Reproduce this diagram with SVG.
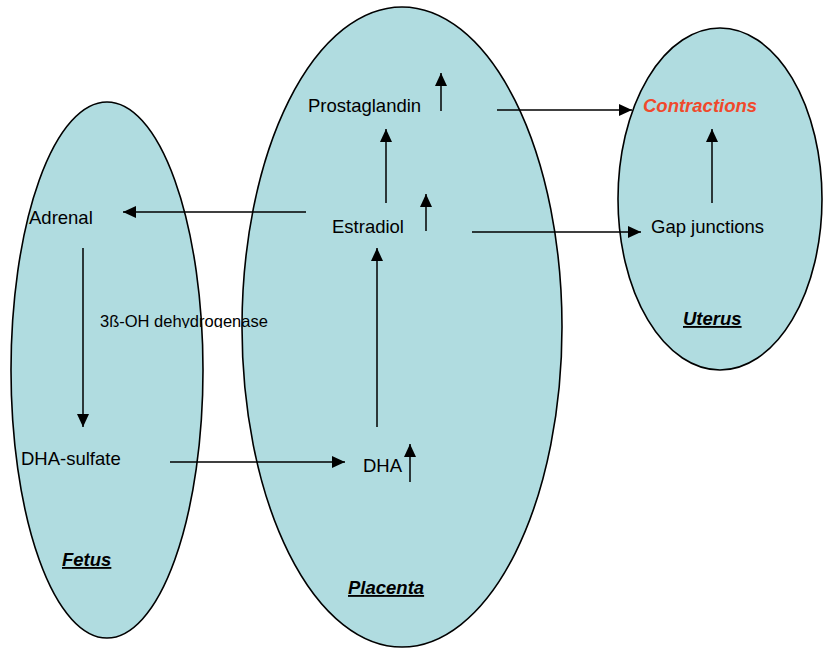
<svg xmlns="http://www.w3.org/2000/svg" width="823" height="648" viewBox="0 0 823 648">
<style>
.region{fill:#b0dce0;stroke:#000;stroke-width:1.6}
.t{font-family:"Liberation Sans",Arial,sans-serif;font-size:18.5px;fill:#000}
.lbl{font-family:"Liberation Sans",Arial,sans-serif;font-size:18.5px;font-weight:bold;font-style:italic;text-decoration:underline;fill:#000}
.conn line{stroke:#000;stroke-width:1.5;marker-end:url(#ah)}
</style>
<defs>
<marker id="ah" markerUnits="userSpaceOnUse" markerWidth="14" markerHeight="12" viewBox="0 0 14 12" refX="13" refY="6" orient="auto">
<path d="M0,0 L13,6 L0,12 Z" fill="#000"/>
</marker>
<clipPath id="clipEnz"><rect x="90" y="300" width="200" height="28"/></clipPath>
</defs>
<g id="fetus">
<ellipse class="region" cx="107" cy="370" rx="96" ry="268"/>
<text class="lbl" x="62" y="566">Fetus</text>
</g>
<g id="placenta">
<ellipse class="region" cx="402" cy="327" rx="160" ry="320"/>
<text class="lbl" x="348" y="594">Placenta</text>
</g>
<g id="uterus">
<ellipse class="region" cx="720" cy="199" rx="102" ry="171"/>
<text class="lbl" x="683" y="325">Uterus</text>
</g>
<g id="adrenal"><text class="t" x="29" y="224">Adrenal</text></g>
<g id="dha-sulfate"><text class="t" x="21" y="465">DHA-sulfate</text></g>
<g id="enzyme"><text class="t" x="100" y="327" style="font-size:16.5px" clip-path="url(#clipEnz)">3ß-OH dehydrogenase</text></g>
<g id="dha"><text class="t" x="363" y="472">DHA</text></g>
<g id="estradiol"><text class="t" x="332" y="233">Estradiol</text></g>
<g id="prostaglandin"><text class="t" x="308" y="112">Prostaglandin</text></g>
<g id="gap-junctions"><text class="t" x="651" y="233">Gap junctions</text></g>
<g id="contractions"><text class="t" x="643" y="112" style="font-weight:bold;font-style:italic;fill:#f0492b">Contractions</text></g>
<g id="connectors" class="conn">
<line x1="306" y1="212" x2="123" y2="212"/>
<line x1="83" y1="248" x2="83" y2="427"/>
<line x1="170" y1="462" x2="345" y2="462"/>
<line x1="377" y1="427" x2="377" y2="248"/>
<line x1="386" y1="203" x2="386" y2="129"/>
<line x1="472" y1="232" x2="641" y2="232"/>
<line x1="497" y1="110" x2="632" y2="110"/>
<line x1="712" y1="203" x2="712" y2="129"/>
<line x1="441" y1="111" x2="441" y2="73"/>
<line x1="426" y1="231" x2="426" y2="194"/>
<line x1="410" y1="482" x2="410" y2="444"/>
</g>
</svg>
